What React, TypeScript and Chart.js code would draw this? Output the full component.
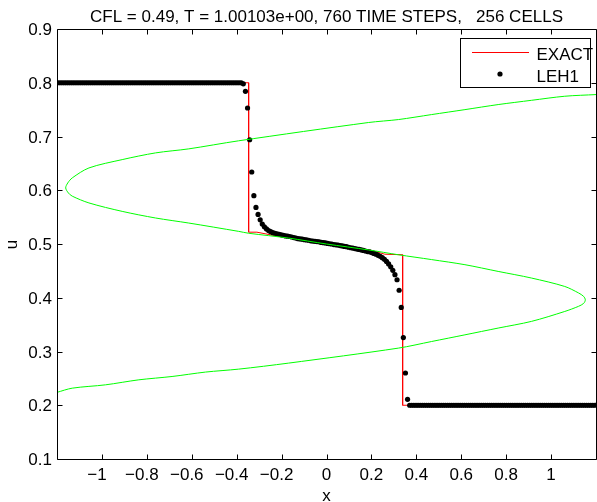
import React, { useEffect, useRef } from "react";
import { Chart, registerables } from "chart.js";

Chart.register(...registerables);

const TITLE = "CFL = 0.49, T = 1.00103e+00, 760 TIME STEPS,   256 CELLS";
const X_LABEL = "x";
const Y_LABEL = "u";
const X_MIN = -1.2;
const X_MAX = 1.2;
const Y_MIN = 0.1;
const Y_MAX = 0.9;
const X_TICKS = [-1, -0.8, -0.6, -0.4, -0.2, 0, 0.2, 0.4, 0.6, 0.8, 1];
const X_TICK_LABELS = ["\u22121", "\u22120.8", "\u22120.6", "\u22120.4", "\u22120.2", "0", "0.2", "0.4", "0.6", "0.8", "1"];
const Y_TICKS = [0.1, 0.2, 0.3, 0.4, 0.5, 0.6, 0.7, 0.8, 0.9];
const Y_TICK_LABELS = ["0.1", "0.2", "0.3", "0.4", "0.5", "0.6", "0.7", "0.8", "0.9"];
const LEGEND_LABELS = ["EXACT", "LEH1"];

const CELLS = 256;

// LEH1 numerical solution, one value per cell (left to right)
const LEH1_U: number[] = [
  0.8, 0.8, 0.8, 0.8, 0.8, 0.8, 0.8, 0.8, 0.8, 0.8, 0.8,
  0.8, 0.8, 0.8, 0.8, 0.8, 0.8, 0.8, 0.8, 0.8, 0.8, 0.8,
  0.8, 0.8, 0.8, 0.8, 0.8, 0.8, 0.8, 0.8, 0.8, 0.8, 0.8,
  0.8, 0.8, 0.8, 0.8, 0.8, 0.8, 0.8, 0.8, 0.8, 0.8, 0.8,
  0.8, 0.8, 0.8, 0.8, 0.8, 0.8, 0.8, 0.8, 0.8, 0.8, 0.8,
  0.8, 0.8, 0.8, 0.8, 0.8, 0.8, 0.8, 0.8, 0.8, 0.8, 0.8,
  0.8, 0.8, 0.8, 0.8, 0.8, 0.8, 0.8, 0.8, 0.8, 0.8, 0.8,
  0.8, 0.8, 0.8, 0.8, 0.8, 0.8, 0.8, 0.8, 0.8, 0.8, 0.8,
  0.798, 0.784, 0.753, 0.694, 0.634, 0.59, 0.568, 0.555, 0.545, 0.537,
  0.532, 0.528, 0.525, 0.523, 0.521, 0.52, 0.519, 0.518, 0.517, 0.516,
  0.515, 0.5145, 0.514, 0.513, 0.512, 0.511, 0.51, 0.5095, 0.509, 0.508,
  0.5075, 0.507, 0.506, 0.5055, 0.505, 0.5045, 0.504, 0.503, 0.5025, 0.502,
  0.501, 0.5005, 0.5, 0.499, 0.4985, 0.498, 0.497, 0.4965, 0.4955, 0.495,
  0.494, 0.493, 0.4925, 0.4915, 0.4905, 0.49, 0.489, 0.488, 0.487, 0.486,
  0.4855, 0.484, 0.4825, 0.481, 0.479, 0.477, 0.4745, 0.4715, 0.4675, 0.463,
  0.4575, 0.451, 0.443, 0.4335, 0.414, 0.382, 0.326, 0.26, 0.211,
  0.2, 0.2, 0.2, 0.2, 0.2, 0.2, 0.2, 0.2, 0.2,
  0.2, 0.2, 0.2, 0.2, 0.2, 0.2, 0.2, 0.2, 0.2, 0.2,
  0.2, 0.2, 0.2, 0.2, 0.2, 0.2, 0.2, 0.2, 0.2, 0.2,
  0.2, 0.2, 0.2, 0.2, 0.2, 0.2, 0.2, 0.2, 0.2, 0.2,
  0.2, 0.2, 0.2, 0.2, 0.2, 0.2, 0.2, 0.2, 0.2, 0.2,
  0.2, 0.2, 0.2, 0.2, 0.2, 0.2, 0.2, 0.2, 0.2, 0.2,
  0.2, 0.2, 0.2, 0.2, 0.2, 0.2, 0.2, 0.2, 0.2, 0.2,
  0.2, 0.2, 0.2, 0.2, 0.2, 0.2, 0.2, 0.2, 0.2, 0.2,
  0.2, 0.2, 0.2, 0.2, 0.2, 0.2, 0.2, 0.2, 0.2, 0.2,
];

// Exact solution (red)
const EXACT_X = [-1.2, -0.3467, -0.3467, -0.31, -0.236, 0, 0.2, 0.26, 0.339, 0.339, 1.2];
const EXACT_U = [0.8, 0.8, 0.522, 0.522, 0.516, 0.5, 0.488, 0.481, 0.48, 0.2, 0.2];

// Green S-shaped curve
const CURVE_X = [
  -1.2, -1.132, -0.9836, -0.8356, -0.6876, -0.5391, -0.3911, -0.1689, 0.32,
  0.468, 0.6164, 0.7644, 0.9124, 1.0609, 1.122, 1.145, 1.1524, 1.145, 1.122,
  1.0609, 0.9124, 0.7644, 0.6164, 0.468, 0.32, 0.1867, 0, -0.1689, -0.3467,
  -0.3911, -0.6133, -0.7613, -0.9098, -1.0578, -1.132, -1.1493, -1.1613, -1.152, -1.132,
  -1.0578, -0.9098, -0.7613, -0.6133, -0.3911, 0.1867, 0.32, 0.468, 0.6164, 0.7644,
  0.9124, 1.0609, 1.2,
];
const CURVE_U = [
  0.224, 0.2318, 0.238, 0.2473, 0.2535, 0.2617, 0.2672, 0.2784, 0.3063,
  0.3186, 0.331, 0.3436, 0.356, 0.3745, 0.384, 0.3895, 0.396, 0.4025, 0.409,
  0.421, 0.4367, 0.449, 0.4615, 0.471, 0.48, 0.489, 0.5, 0.511, 0.52,
  0.5235, 0.539, 0.5484, 0.5607, 0.5764, 0.589, 0.595, 0.6043, 0.6136, 0.623,
  0.6415, 0.657, 0.6695, 0.677, 0.692, 0.726, 0.7315, 0.7408, 0.75, 0.7594,
  0.7673, 0.7749, 0.778,
];

const FONT = '17px "Liberation Sans", Arial, Helvetica, sans-serif';

const decorPlugin = {
  id: "decor",
  afterDraw(chart: any) {
    const ctx = chart.ctx as CanvasRenderingContext2D;
    const xs = chart.scales.x;
    const ys = chart.scales.y;
    const L = Math.round(xs.getPixelForValue(X_MIN)) + 0.5;
    const R = Math.round(xs.getPixelForValue(X_MAX)) + 0.5;
    const T = Math.round(ys.getPixelForValue(Y_MAX)) + 0.5;
    const B = Math.round(ys.getPixelForValue(Y_MIN)) + 0.5;
    ctx.save();
    ctx.strokeStyle = "#000";
    ctx.lineWidth = 1;
    ctx.beginPath();
    ctx.rect(L, T, R - L, B - T);
    ctx.stroke();
    const tl = 5;
    ctx.beginPath();
    X_TICKS.forEach((v) => {
      const p = Math.round(xs.getPixelForValue(v)) + 0.5;
      ctx.moveTo(p, B);
      ctx.lineTo(p, B - tl);
      ctx.moveTo(p, T);
      ctx.lineTo(p, T + tl);
    });
    Y_TICKS.forEach((v) => {
      const p = Math.round(ys.getPixelForValue(v)) + 0.5;
      ctx.moveTo(L, p);
      ctx.lineTo(L + tl, p);
      ctx.moveTo(R, p);
      ctx.lineTo(R - tl, p);
    });
    ctx.stroke();

    ctx.fillStyle = "#000";
    ctx.font = FONT;
    ctx.textBaseline = "alphabetic";
    // x tick labels: numeric part centred on the tick, minus hangs left
    X_TICKS.forEach((v, i) => {
      const lab = X_TICK_LABELS[i];
      const digits = lab.replace("\u2212", "");
      const w = ctx.measureText(digits).width;
      const p = xs.getPixelForValue(v);
      ctx.textAlign = "right";
      ctx.fillText(lab, p + w / 2, 479.5);
    });
    // y tick labels
    ctx.textAlign = "right";
    Y_TICKS.forEach((v, i) => {
      const p = ys.getPixelForValue(v);
      ctx.fillText(Y_TICK_LABELS[i], 52, p + 6);
    });
    // title
    ctx.textAlign = "center";
    ctx.fillText(TITLE, (xs.getPixelForValue(X_MIN) + xs.getPixelForValue(X_MAX)) / 2, 21.5);
    // x label
    ctx.fillText(X_LABEL, xs.getPixelForValue(0), 500.5);
    // y label
    ctx.save();
    ctx.translate(16.5, (T + B) / 2);
    ctx.rotate(-Math.PI / 2);
    ctx.textAlign = "center";
    ctx.fillText(Y_LABEL, 0, 0);
    ctx.restore();

    // legend
    ctx.fillStyle = "#fff";
    ctx.fillRect(460.5, 38.5, 130, 49);
    ctx.strokeStyle = "#000";
    ctx.strokeRect(460.5, 38.5, 130, 49);
    ctx.strokeStyle = "#ff0000";
    ctx.beginPath();
    ctx.moveTo(472, 52.5);
    ctx.lineTo(529, 52.5);
    ctx.stroke();
    ctx.fillStyle = "#000";
    ctx.beginPath();
    ctx.arc(500, 74, 2.6, 0, Math.PI * 2);
    ctx.fill();
    ctx.textAlign = "left";
    ctx.fillText(LEGEND_LABELS[0], 536.5, 59.5);
    ctx.fillText(LEGEND_LABELS[1], 536.5, 81.5);
    ctx.restore();
  },
};

export default function App() {
  const ref = useRef<HTMLCanvasElement | null>(null);
  useEffect(() => {
    if (!ref.current) return;
    const leh1 = LEH1_U.map((u, i) => ({ x: X_MIN + ((i + 0.5) * (X_MAX - X_MIN)) / CELLS, y: u }));
    const exact = EXACT_X.map((x, i) => ({ x, y: EXACT_U[i] }));
    const curve = CURVE_X.map((x, i) => ({ x, y: CURVE_U[i] }));
    const chart = new Chart(ref.current, {
      type: "scatter",
      data: {
        datasets: [
          {
            label: "curve",
            data: curve,
            showLine: true,
            borderColor: "#00ff00",
            borderWidth: 1,
            pointRadius: 0,
            tension: 0.3,
            order: 0,
          },
          {
            label: LEGEND_LABELS[1],
            data: leh1,
            showLine: false,
            pointRadius: 2.6,
            pointBackgroundColor: "#000",
            pointBorderWidth: 0,
            order: 1,
          },
          {
            label: LEGEND_LABELS[0],
            data: exact,
            showLine: true,
            borderColor: "#ff0000",
            borderWidth: 1,
            pointRadius: 0,
            tension: 0,
            order: 2,
          },
        ],
      },
      options: {
        responsive: false,
        animation: false,
        events: [],
        layout: { padding: { left: 57, right: 2, top: 29, bottom: 43 } },
        scales: {
          x: { type: "linear", min: X_MIN, max: X_MAX, display: false },
          y: { type: "linear", min: Y_MIN, max: Y_MAX, display: false },
        },
        plugins: { legend: { display: false }, tooltip: { enabled: false }, title: { display: false } },
      },
      plugins: [decorPlugin],
    });
    return () => chart.destroy();
  }, []);
  return (
    <div style={{ position: "fixed", left: 0, top: 0, width: 597, height: 502, overflow: "hidden", background: "#fff" }}>
      <canvas ref={ref} width={600} height={502} style={{ display: "block" }} />
    </div>
  );
}
